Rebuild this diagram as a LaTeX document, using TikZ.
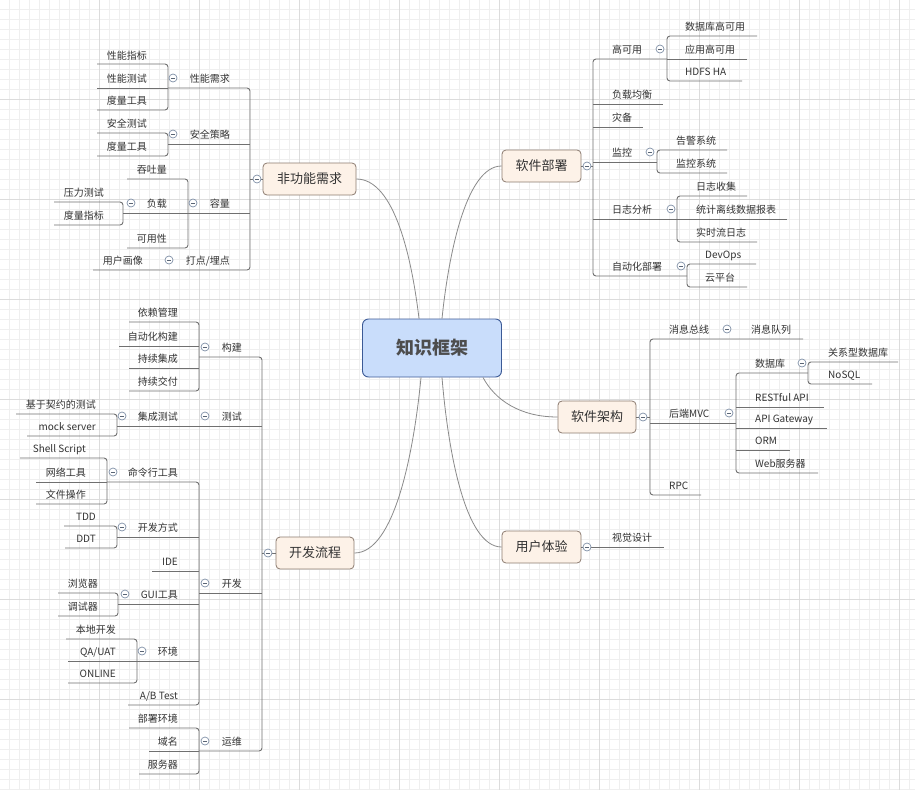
\documentclass[tikz,border=0pt]{standalone}
\usepackage{fontspec}
\setmainfont{Noto Sans CJK SC}
\definecolor{lgray}{HTML}{707070}
\definecolor{cvgray}{HTML}{8A8A8A}
\definecolor{tgray}{HTML}{333333}
\definecolor{tfill}{HTML}{FDF2E8}
\definecolor{tborder}{HTML}{8C7B70}
\definecolor{rfill}{HTML}{C9DDFB}
\definecolor{rborder}{HTML}{3C5A96}
\definecolor{rtext}{HTML}{4D4D4D}
\definecolor{cgray}{HTML}{7F8FA6}
\definecolor{gminor}{HTML}{EFEFEF}
\definecolor{gmajor}{HTML}{DCDCDC}
\begin{document}
\begin{tikzpicture}[x=1pt,y=-1pt,
  conn/.style={draw=lgray,line width=0.9pt,rounded corners=3pt},
  curve/.style={draw=cvgray,line width=0.8pt},
  leafL/.style={anchor=base east,inner sep=0pt,text=tgray,font=\fontsize{10}{12}\selectfont},
  leafR/.style={anchor=base west,inner sep=0pt,text=tgray,font=\fontsize{10}{12}\selectfont},
  topic/.style={draw=tborder,fill=tfill,rounded corners=4pt,line width=0.8pt,inner sep=0pt,minimum height=32pt,font=\fontsize{13}{15}\selectfont,text=tgray},
  rootbox/.style={draw=rborder,fill=rfill,rounded corners=6pt,line width=0.9pt,inner sep=0pt,minimum width=139pt,minimum height=58pt,font=\fontsize{18}{20}\selectfont\bfseries,text=rtext},
  collapse/.style={circle,draw=cgray,fill=white,line width=0.7pt,minimum size=8pt,inner sep=0pt,
    path picture={\draw[cgray!70!black,line width=0.7pt] ([xshift=-2.2pt]path picture bounding box.center) -- ([xshift=2.2pt]path picture bounding box.center);}}
]
\useasboundingbox (0,0) rectangle (915,790);
\fill[white] (0,0) rectangle (915,790);
% grid
\foreach \x in {9,19,...,909} \draw[gminor,line width=0.8pt] (\x,0) -- (\x,790);
\foreach \y in {9,19,...,789} \draw[gminor,line width=0.8pt] (0,\y) -- (915,\y);
\foreach \x in {99,199,...,899} \draw[gmajor,line width=0.9pt] (\x,0) -- (\x,790);
\foreach \y in {99,199,...,699} \draw[gmajor,line width=0.9pt] (0,\y) -- (915,\y);

% ===== central and topics =====
\node[rootbox] (root) at (432,348) {知识框架};
\node[topic,minimum width=93pt] (nf) at (309.5,179) {非功能需求};
\node[topic,minimum width=79pt] (bs) at (541.5,166) {软件部署};
\node[topic,minimum width=78pt] (jg) at (597,417) {软件架构};
\node[topic,minimum width=79pt] (ux) at (541.5,547) {用户体验};
\node[topic,minimum width=78pt] (kf) at (315,553) {开发流程};

% curves
\draw[curve] (nf.east) .. controls (395,179) and (412,260) .. ([xshift=-13pt]root.north);
\draw[curve] (bs.west) .. controls (465,166) and (448,260) .. ([xshift=10pt]root.north);
\draw[curve] (kf.east) .. controls (395,553) and (414,450) .. ([xshift=-11pt]root.south);
\draw[curve] (ux.west) .. controls (465,547) and (448,450) .. ([xshift=10pt]root.south);
\draw[curve] (jg.west) .. controls (520,417) and (495,400) .. ([xshift=51pt]root.south);

% ===== 非功能需求 =====
\draw[conn] (nf.west) -- (250,179);
\draw[conn] (168,88) -- (250,88) -- (250,270) -- (93,270);
\draw[conn] (168,144) -- (250,144);
\draw[conn] (123,213) -- (250,213);
% 性能需求
\draw[conn] (97,64) -- (168,64) -- (168,110) -- (97,110);
\draw[conn] (97,88) -- (168,88);
\node[leafL] (xnzb) at (147,59) {性能指标};
\node[leafL] (xncs) at (147,82) {性能测试};
\node[leafL] (dlgj1) at (147,104) {度量工具};
\node[leafL] (xnxq) at (230,82) {性能需求};
% 安全策略
\draw[conn] (97,133) -- (168,133) -- (168,156) -- (97,156);
\node[leafL] (aqcs) at (147,127) {安全测试};
\node[leafL] (dlgj2) at (147,150) {度量工具};
\node[leafL] (aqcl) at (230,138) {安全策略};
% 容量
\draw[conn] (127,179) -- (188,179) -- (188,248) -- (127,248);
\draw[conn] (54,202) -- (123,202) -- (123,225) -- (54,225);
\node[leafL] (ttl) at (167,173) {吞吐量};
\node[leafL] (fz) at (167,207) {负载};
\node[leafL] (kyx) at (167,242) {可用性};
\node[leafL] (rl) at (230,207) {容量};
\node[leafL] (ylcs) at (104,196) {压力测试};
\node[leafL] (dlzb) at (104,219) {度量指标};
% 打点/埋点
\node[leafL] (ddmd) at (230,264) {打点/埋点};
\node[leafL] (yhhx) at (143,264) {用户画像};

% ===== 软件部署 =====
\draw[conn] (bs.east) -- (593,166);
\draw[conn] (667,59) -- (593,59) -- (593,276) -- (687,276);
\draw[conn] (593,104) -- (663,104);
\draw[conn] (593,127) -- (643,127);
\draw[conn] (593,162) -- (657,162);
\draw[conn] (593,219) -- (677,219);
\node[leafR] (gky) at (612,53) {高可用};
\node[leafR] (fzjh) at (612,98) {负载均衡};
\node[leafR] (zb) at (612,121) {灾备};
\node[leafR] (jk) at (612,156) {监控};
\node[leafR] (rzfx) at (612,213) {日志分析};
\node[leafR] (zdhbs) at (612,270) {自动化部署};
% 高可用
\draw[conn] (757,36) -- (667,36) -- (667,81) -- (742,81);
\draw[conn] (667,59) -- (747,59);
\node[leafR] (sjkgky) at (685,30) {数据库高可用};
\node[leafR] (yygky) at (685,53) {应用高可用};
\node[leafR] (hdfs) at (685,75) {HDFS HA};
% 监控
\draw[conn] (727,150) -- (657,150) -- (657,173) -- (727,173);
\node[leafR] (gjxt) at (676,144) {告警系统};
\node[leafR] (jkxt) at (676,167) {监控系统};
% 日志分析
\draw[conn] (747,196) -- (677,196) -- (677,242) -- (757,242);
\draw[conn] (677,219) -- (787,219);
\node[leafR] (rzsj) at (696,190) {日志收集};
\node[leafR] (tjlx) at (696,213) {统计离线数据报表};
\node[leafR] (sslrz) at (696,236) {实时流日志};
% 自动化部署
\draw[conn] (756,264) -- (687,264) -- (687,287) -- (747,287);
\node[leafR] (devops) at (705,258) {DevOps};
\node[leafR] (ypt) at (705,281) {云平台};

% ===== 软件架构 =====
\draw[conn] (jg.east) -- (650,417);
\draw[conn] (803,339) -- (650,339) -- (650,495) -- (701,495);
\draw[conn] (650,423) -- (736,423);
\node[leafR] (xxzx) at (669,333) {消息总线};
\node[leafR] (xxdl) at (751,333) {消息队列};
\node[leafR] (hdmvc) at (669,417) {后端MVC};
\node[leafR] (rpc) at (669,489) {RPC};
\draw[conn] (808,373) -- (736,373) -- (736,473) -- (818,473);
\draw[conn] (736,407) -- (824,407);
\draw[conn] (736,428) -- (827,428);
\draw[conn] (736,450) -- (790,450);
\node[leafR] (sjk) at (755,367) {数据库};
\node[leafR] (rest) at (755,401) {RESTful API};
\node[leafR] (apigw) at (755,422) {API Gateway};
\node[leafR] (orm) at (755,444) {ORM};
\node[leafR] (web) at (755,467) {Web服务器};
\draw[conn] (898,362) -- (808,362) -- (808,384) -- (872,384);
\node[leafR] (gxx) at (828,356) {关系型数据库};
\node[leafR] (nosql) at (828,378) {NoSQL};

% ===== 用户体验 =====
\draw[conn] (ux.east) -- (664,547);
\node[leafR] (sjsj) at (612,541) {视觉设计};

% ===== 开发流程 =====
\draw[conn] (262,553) -- (kf.west);
\draw[conn] (199,357) -- (262,357) -- (262,751) -- (199,751);
\draw[conn] (117,426) -- (262,426);
\draw[conn] (199,593) -- (262,593);
\node[leafL] (gj) at (242,351) {构建};
\node[leafL] (cs) at (242,420) {测试};
\node[leafL] (kfa) at (242,587) {开发};
\node[leafL] (yw) at (242,745) {运维};
% 构建
\draw[conn] (129,322) -- (199,322) -- (199,391) -- (129,391);
\draw[conn] (119,346) -- (199,346);
\draw[conn] (129,368) -- (199,368);
\node[leafL] (ylgl) at (178,316) {依赖管理};
\node[leafL] (zdhgj) at (178,340) {自动化构建};
\node[leafL] (cxjc) at (178,362) {持续集成};
\node[leafL] (cxjf) at (178,385) {持续交付};
% 测试
\node[leafL] (jccs) at (178,420) {集成测试};
\draw[conn] (16,414) -- (117,414) -- (117,436) -- (27,436);
\node[leafL] (jyqy) at (96,408) {基于契约的测试};
\node[leafL] (mock) at (96,430) {mock server};
% 开发
\draw[conn] (107,482) -- (199,482) -- (199,705) -- (128,705);
\draw[conn] (117,537) -- (199,537);
\draw[conn] (152,571) -- (199,571);
\draw[conn] (118,604) -- (199,604);
\draw[conn] (137,661) -- (199,661);
\node[leafL] (mlh) at (178,476) {命令行工具};
\node[leafL] (kffs) at (178,531) {开发方式};
\node[leafL] (ide) at (178,565) {IDE};
\node[leafL] (gui) at (178,598) {GUI工具};
\node[leafL] (hj) at (178,655) {环境};
\node[leafL] (ab) at (178,699) {A/B Test};
\draw[conn] (20,458) -- (107,458) -- (107,504) -- (36,504);
\draw[conn] (36,482) -- (107,482);
\node[leafL] (shell) at (86,452) {Shell Script};
\node[leafL] (wlgj) at (86,476) {网络工具};
\node[leafL] (wjcz) at (86,498) {文件操作};
\draw[conn] (64,526) -- (117,526) -- (117,548) -- (65,548);
\node[leafL] (tdd) at (96,520) {TDD};
\node[leafL] (ddt) at (96,542) {DDT};
\draw[conn] (58,593) -- (118,593) -- (118,616) -- (58,616);
\node[leafL] (llq) at (98,587) {浏览器};
\node[leafL] (tsq) at (98,610) {调试器};
\draw[conn] (66,639) -- (137,639) -- (137,683) -- (68,683);
\draw[conn] (68,661) -- (137,661);
\node[leafL] (bdkf) at (116,633) {本地开发};
\node[leafL] (qa) at (116,655) {QA/UAT};
\node[leafL] (online) at (116,677) {ONLINE};
% 运维
\draw[conn] (129,728) -- (199,728) -- (199,774) -- (139,774);
\draw[conn] (149,751) -- (199,751);
\node[leafL] (bshj) at (178,722) {部署环境};
\node[leafL] (ym) at (178,745) {域名};
\node[leafL] (fwq) at (178,768) {服务器};

% ===== collapse circles =====
\node[collapse] (c1) at (257,179) {};
\node[collapse] (c2) at (173,78) {};
\node[collapse] (c3) at (173,134) {};
\node[collapse] (c4) at (193,203) {};
\node[collapse] (c5) at (131,203) {};
\node[collapse] (c6) at (169,260) {};
\node[collapse] (c7) at (587,166) {};
\node[collapse] (c8) at (660,49) {};
\node[collapse] (c9) at (650,152) {};
\node[collapse] (c10) at (671,209) {};
\node[collapse] (c11) at (681,266) {};
\node[collapse] (c12) at (643,417) {};
\node[collapse] (c13) at (727,329) {};
\node[collapse] (c14) at (729,413) {};
\node[collapse] (c15) at (802,363) {};
\node[collapse] (c16) at (587,547) {};
\node[collapse] (c17) at (268,553) {};
\node[collapse] (c18) at (205,347) {};
\node[collapse] (c19) at (205,416) {};
\node[collapse] (c20) at (122,416) {};
\node[collapse] (c21) at (205,583) {};
\node[collapse] (c22) at (113,472) {};
\node[collapse] (c23) at (122,527) {};
\node[collapse] (c24) at (125,594) {};
\node[collapse] (c25) at (142,651) {};
\node[collapse] (c26) at (205,741) {};
\end{tikzpicture}
\end{document}
